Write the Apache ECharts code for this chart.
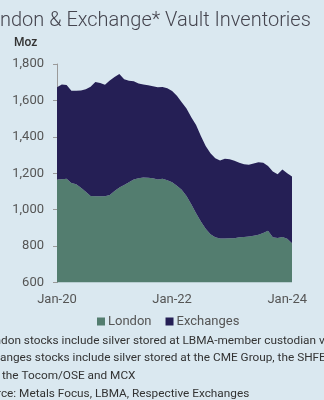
<!DOCTYPE html>
<html>
<head>
<meta charset="utf-8">
<script src="https://cdn.jsdelivr.net/npm/echarts@6/dist/echarts.min.js"></script>
<style>
html,body{margin:0;padding:0;background:#dae8f0;}
#c{width:324px;height:400px;}
</style>
</head>
<body>
<div id="c"></div>
<script>
var categories = ["Jan-20","Feb-20","Mar-20","Apr-20","May-20","Jun-20","Jul-20","Aug-20","Sep-20","Oct-20","Nov-20","Dec-20",
"Jan-21","Feb-21","Mar-21","Apr-21","May-21","Jun-21","Jul-21","Aug-21","Sep-21","Oct-21","Nov-21","Dec-21",
"Jan-22","Feb-22","Mar-22","Apr-22","May-22","Jun-22","Jul-22","Aug-22","Sep-22","Oct-22","Nov-22","Dec-22",
"Jan-23","Feb-23","Mar-23","Apr-23","May-23","Jun-23","Jul-23","Aug-23","Sep-23","Oct-23","Nov-23","Dec-23",
"Jan-24","Feb-24"];
var tickLabels = ["Jan-20","Jan-22","Jan-24"];
var london = [1165,1167,1170,1147,1140,1120,1098,1075,1073,1073,1073,1080,
1102,1122,1135,1150,1165,1172,1177,1175,1172,1165,1170,1162,
1150,1132,1110,1075,1030,980,935,895,865,848,842,842,
843,843,848,850,853,857,862,872,884,848,845,850,
840,815];
var exchanges = [507,521,515,506,513,535,564,600,628,622,613,630,
626,623,581,558,540,521,511,508,506,507,503,505,
502,493,480,480,478,485,470,455,445,435,428,438,
434,425,410,400,393,397,398,386,356,362,350,370,
360,367];
var titleText = "London & Exchange* Vault Inventories";
var unitText = "Moz";
var notes = ["*London stocks include silver stored at LBMA-member custodian vaults",
"*Exchanges stocks include silver stored at the CME Group, the SHFE,",
"the Tocom/OSE and MCX",
"Source: Metals Focus, LBMA, Respective Exchanges"];
var hiddenPrefixes = ["*Lon","*Exch","","Sour"];

var FONT = "Roboto, 'Noto Sans', sans-serif";
var cv = document.createElement('canvas').getContext('2d');
function tw(s, size, weight){ cv.font = (weight||'normal') + ' ' + size + 'px ' + FONT; return cv.measureText(s).width; }

var titleSize = 20;
var noteSize = 11.8;
var noteY = [341, 358.5, 376.5, 394];
var noteX0 = [1, 0, 2, 1];

var graphics = [{
  type:'text', x: -tw("Lo", titleSize, '300'), y: 21,
  style:{text:titleText, font:'300 ' + titleSize + 'px ' + FONT, fill:'#45454f', verticalAlign:'middle'}
},{
  type:'text', x: 14, y: 43,
  style:{text:unitText, font:'500 12px ' + FONT, fill:'#333333', verticalAlign:'middle'}
}];
notes.forEach(function(n, i){
  graphics.push({type:'text', x: noteX0[i] - tw(hiddenPrefixes[i], noteSize), y: noteY[i],
    style:{text:n, font:'normal ' + noteSize + 'px ' + FONT, fill:'#333333', verticalAlign:'middle'}});
});

var chart = echarts.init(document.getElementById('c'));
chart.setOption({
  backgroundColor:'#dae8f0',
  animation:false,
  textStyle:{fontFamily:FONT},
  grid:{left:57, right:32, top:64, bottom:117.5, containLabel:false},
  legend:{
    left:97, top:315, padding:0, icon:'rect', itemWidth:8, itemHeight:8, itemGap:14,
    textStyle:{fontSize:13, color:'#555555', fontFamily:FONT, padding:[0,0,0,-2]},
    data:['London','Exchanges']
  },
  xAxis:{
    type:'category', boundaryGap:false, data:categories,
    axisLine:{show:false}, axisTick:{show:false},
    axisLabel:{
      interval:function(i, v){ return tickLabels.indexOf(v) >= 0; },
      fontSize:13, color:'#555555', margin:11
    },
    splitLine:{show:false}
  },
  yAxis:{
    type:'value', min:600, max:1800, interval:200,
    axisLine:{show:true, lineStyle:{color:'#9a9a9a', width:1}},
    axisTick:{show:true, length:4, lineStyle:{color:'#9a9a9a'}},
    axisLabel:{fontSize:13, color:'#555555', margin:13,
      formatter:function(v){ return v.toLocaleString('en-US'); }},
    splitLine:{show:false}
  },
  series:[{
    name:'London', type:'line', stack:'total', data:london,
    showSymbol:false, symbol:'none', lineStyle:{width:0},
    itemStyle:{color:'#537d6f'}, areaStyle:{color:'#537d6f', opacity:1}
  },{
    name:'Exchanges', type:'line', stack:'total', data:exchanges,
    showSymbol:false, symbol:'none', lineStyle:{width:0},
    itemStyle:{color:'#251f55'}, areaStyle:{color:'#251f55', opacity:1}
  }],
  graphic:graphics
});
</script>
</body>
</html>
